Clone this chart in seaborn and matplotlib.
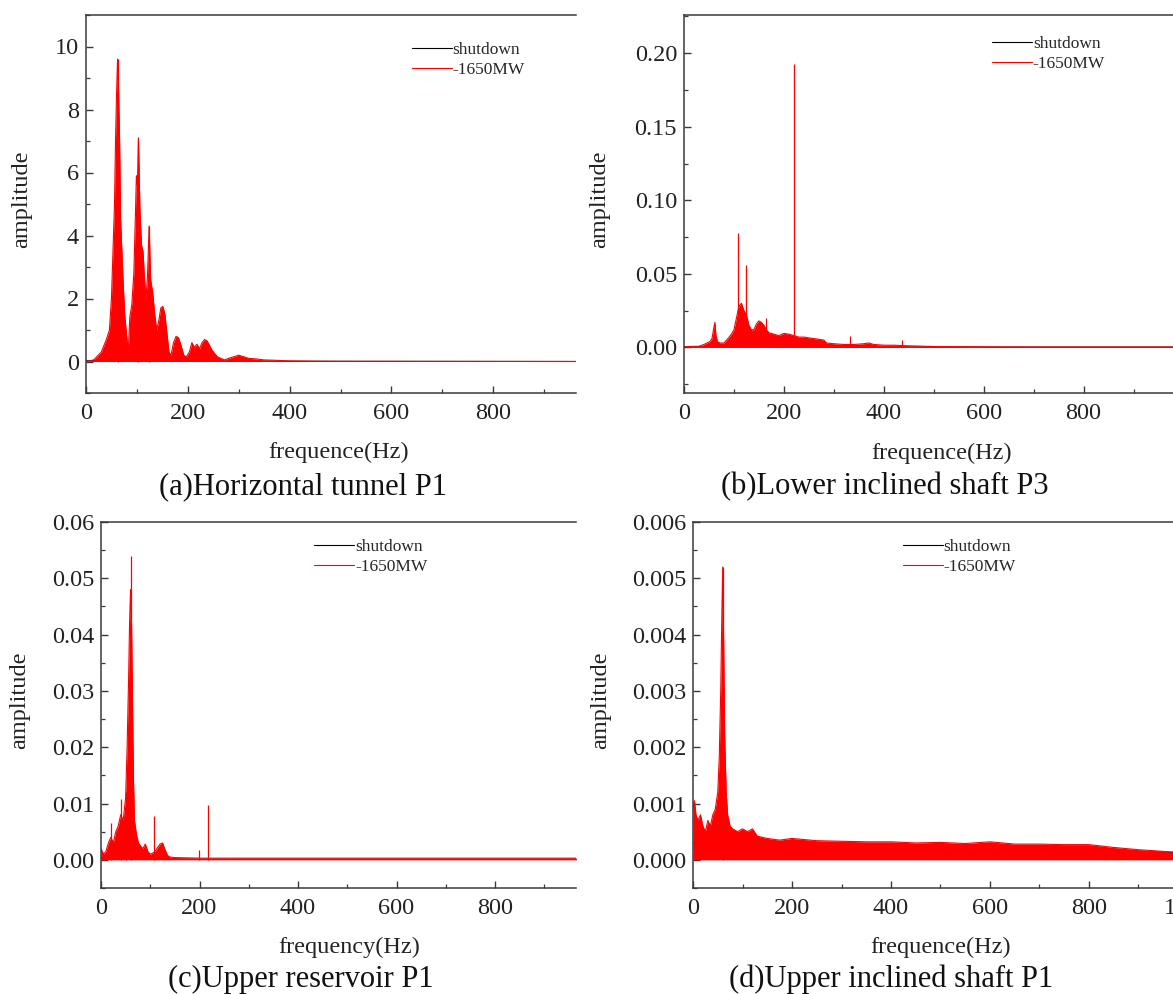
import matplotlib
matplotlib.use("Agg")
import matplotlib.pyplot as plt
import numpy as np
import pandas as pd
import seaborn as sns
from matplotlib.ticker import MultipleLocator, FormatStrFormatter

# ---------------- data ----------------
# (a) Horizontal tunnel P1 : -1650MW spectrum envelope
a_freq = [0, 15, 30, 40, 46, 50, 53, 56, 58, 60, 62, 64, 66, 68, 70, 73, 76, 80, 83, 86, 90,
          94, 97, 99, 101, 103, 106, 109, 112, 115, 118, 121, 124, 127, 131, 135, 139, 143,
          147, 151, 155, 159, 163, 167, 172, 177, 182, 187, 192, 197, 203, 208, 213, 218,
          223, 228, 233, 238, 243, 248, 253, 258, 265, 272, 280, 290, 300, 310, 320, 335,
          350, 370, 400, 450, 500, 1000]
a_amp = [0, 0.05, 0.3, 0.7, 1.0, 2.0, 3.5, 5.0, 7.0, 8.5, 9.6, 8.6, 7.0, 4.5, 3.7, 2.5, 1.5,
         0.8, 0.3, 1.4, 1.8, 2.8, 4.6, 5.9, 5.6, 7.1, 4.8, 3.7, 3.5, 2.6, 2.0, 2.8, 4.3, 2.6,
         2.2, 1.5, 1.0, 1.3, 1.7, 1.75, 1.5, 0.9, 0.3, 0.2, 0.6, 0.8, 0.75, 0.5, 0.2, 0.15,
         0.3, 0.6, 0.45, 0.55, 0.4, 0.6, 0.7, 0.65, 0.5, 0.35, 0.25, 0.15, 0.1, 0.05, 0.1,
         0.15, 0.2, 0.15, 0.1, 0.08, 0.05, 0.04, 0.02, 0.01, 0.005, 0.0]
a_spike_freq = [62, 103, 124]
a_spike_amp = [9.6, 7.1, 4.3]
a_shut_freq = [0, 50, 60, 70, 100, 200, 1000]
a_shut_amp = [0.02, 0.05, 0.1, 0.05, 0.03, 0.01, 0.0]

# (b) Lower inclined shaft P3
b_freq = [0, 30, 40, 46, 52, 56, 60, 62, 64, 67, 72, 80, 88, 95, 100, 105, 110, 115, 120,
          125, 130, 135, 140, 145, 150, 155, 160, 165, 170, 180, 190, 200, 210, 220, 230,
          240, 250, 260, 270, 280, 285, 300, 320, 340, 360, 370, 380, 400, 420, 440, 460,
          480, 500, 550, 600, 700, 800, 1000]
b_amp = [0.0005, 0.0008, 0.002, 0.003, 0.004, 0.006, 0.014, 0.017, 0.008, 0.004, 0.003,
         0.003, 0.006, 0.009, 0.012, 0.02, 0.028, 0.03, 0.025, 0.022, 0.015, 0.012, 0.012,
         0.016, 0.018, 0.017, 0.015, 0.012, 0.01, 0.009, 0.008, 0.0095, 0.009, 0.008,
         0.007, 0.007, 0.0065, 0.006, 0.0055, 0.005, 0.003, 0.0025, 0.002, 0.002, 0.0025,
         0.003, 0.002, 0.0015, 0.0015, 0.0012, 0.001, 0.0008, 0.0006, 0.0005, 0.0004,
         0.0003, 0.0003, 0.0003]
b_spike_freq = [109, 125, 165, 220, 333, 437]
b_spike_amp = [0.078, 0.056, 0.02, 0.193, 0.008, 0.005]
b_shut_freq = [0, 100, 200, 500, 1000]
b_shut_amp = [0.0003, 0.0004, 0.0003, 0.0002, 0.0002]

# (c) Upper reservoir P1
c_freq = [0, 5, 10, 15, 20, 25, 30, 35, 40, 45, 50, 53, 56, 58, 60, 62, 64, 66, 68, 72, 76,
          80, 85, 90, 95, 100, 105, 110, 115, 120, 125, 130, 135, 140, 150, 200, 300, 500,
          700, 1000]
c_amp = [0.002, 0.001, 0.0015, 0.003, 0.004, 0.003, 0.005, 0.006, 0.008, 0.007, 0.011,
         0.02, 0.032, 0.042, 0.048, 0.042, 0.028, 0.014, 0.007, 0.0045, 0.003, 0.0025,
         0.002, 0.0028, 0.0015, 0.001, 0.0012, 0.0015, 0.0022, 0.0028, 0.003, 0.0018,
         0.0008, 0.0005, 0.0004, 0.0003, 0.0003, 0.0003, 0.0003, 0.0003]
c_spike_freq = [20, 40, 50, 60, 108, 198, 218]
c_spike_amp = [0.0065, 0.0108, 0.012, 0.054, 0.0078, 0.0017, 0.0098]
c_shut_freq = [0, 40, 50, 60, 70, 80, 200, 1000]
c_shut_amp = [0.0003, 0.0003, 0.0005, 0.0006, 0.0004, 0.0002, 0.0001, 0.0001]

# (d) Upper inclined shaft P1
d_freq = [0, 3, 6, 10, 15, 20, 25, 30, 35, 40, 45, 50, 53, 56, 58, 60, 62, 64, 67, 70, 75,
          80, 90, 100, 110, 120, 130, 150, 175, 200, 250, 300, 350, 400, 450, 500, 550,
          600, 650, 700, 750, 800, 850, 900, 950, 1000]
d_amp = [0.0009, 0.00105, 0.0008, 0.0007, 0.0008, 0.0006, 0.0005, 0.0007, 0.0006, 0.0008,
         0.0009, 0.0012, 0.0018, 0.003, 0.0042, 0.0052, 0.0038, 0.0022, 0.0012, 0.0008,
         0.0006, 0.00055, 0.0005, 0.00055, 0.0005, 0.00055, 0.00042, 0.00038, 0.00035,
         0.00038, 0.00034, 0.00033, 0.00032, 0.00032, 0.0003, 0.00031, 0.00029, 0.00032,
         0.00028, 0.00028, 0.00027, 0.00027, 0.00022, 0.00018, 0.00015, 0.00012]
d_spike_freq = [60]
d_spike_amp = [0.0052]
d_shut_freq = [0, 50, 60, 70, 200, 600, 1000]
d_shut_amp = [0.0003, 0.0002, 0.0002, 0.0002, 0.00025, 0.00025, 0.00012]

series_labels = ["shutdown", "-1650MW"]
captions = ["(a)Horizontal tunnel P1", "(b)Lower inclined shaft P3",
            "(c)Upper reservoir P1", "(d)Upper inclined shaft P1"]
xlabels = ["frequence(Hz)", "frequence(Hz)", "frequency(Hz)", "frequence(Hz)"]

# ---------------- style ----------------
sns.set_theme(style="ticks")
plt.rcParams["font.family"] = ["Liberation Serif", "DejaVu Serif"]
plt.rcParams["axes.edgecolor"] = "#3a3a3a"
plt.rcParams["axes.linewidth"] = 1.1

W, H = 1173, 994
fig = plt.figure(figsize=(W / 100, H / 100), dpi=100)
fig.patch.set_facecolor("white")


def add_axes_px(left, top, right, bottom):
    return fig.add_axes([left / W, 1 - bottom / H, (right - left) / W, (bottom - top) / H])


def draw_panel(ax, freq, amp, sp_f, sp_a, sd_f, sd_a, xmax, ylim, ymajor, yminor, yfmt,
               xlabel, xl_pos, yl_pos, leg_pos):
    shut = pd.DataFrame({"f": sd_f, "a": sd_a})
    load = pd.DataFrame({"f": freq, "a": amp})
    sns.lineplot(data=shut, x="f", y="a", color="black", lw=0.8, ax=ax,
                 label=series_labels[0], zorder=2)
    ax.fill_between(load["f"], 0, load["a"], color="#ff0000", lw=0, zorder=2.1)
    sns.lineplot(data=load, x="f", y="a", color="#ff0000", lw=0.8, ax=ax,
                 label=series_labels[1], zorder=2.2)
    ax.vlines(sp_f, 0, sp_a, color="#ff0000", lw=0.9, zorder=2.3)

    ax.set_xlim(0, xmax)
    ax.set_ylim(*ylim)
    ax.xaxis.set_major_locator(MultipleLocator(200))
    ax.xaxis.set_minor_locator(MultipleLocator(100))
    ax.yaxis.set_major_locator(MultipleLocator(ymajor))
    ax.yaxis.set_minor_locator(MultipleLocator(yminor))
    ax.yaxis.set_major_formatter(FormatStrFormatter(yfmt))
    ax.tick_params(which="both", direction="in", colors="#3a3a3a", labelcolor="#222222",
                   labelsize=17.5, top=False, right=False)
    ax.tick_params(which="major", length=5, width=1.0)
    ax.tick_params(which="minor", length=3, width=0.9)
    ax.tick_params(axis="x", pad=7)
    ax.tick_params(axis="y", pad=5)
    ax.spines["right"].set_visible(False)

    ax.set_xlabel(xlabel, fontsize=17.5, color="#222222", va="center")
    ax.set_ylabel("amplitude", fontsize=17.5, color="#222222", va="center")
    ax.xaxis.set_label_coords(*xl_pos)
    ax.yaxis.set_label_coords(*yl_pos)

    handles, labels = ax.get_legend_handles_labels()
    ax.legend(handles, labels, loc="upper left", bbox_to_anchor=leg_pos, frameon=False,
              fontsize=12.5, handlelength=2.3, handletextpad=0.05, labelspacing=0.25,
              borderpad=0, borderaxespad=0)


# panel (a)
ax_a = add_axes_px(86, 15, 576, 393)
draw_panel(ax_a, a_freq, a_amp, a_spike_freq, a_spike_amp, a_shut_freq, a_shut_amp,
           xmax=(576 - 86) / 0.509, ylim=(-1, 11), ymajor=2, yminor=1, yfmt="%d",
           xlabel=xlabels[0], xl_pos=(0.516, -0.156), yl_pos=(-0.131, 0.513),
           leg_pos=(0.665, 0.93))

# panel (b)
ax_b = add_axes_px(684, 15, 1173, 393)
draw_panel(ax_b, b_freq, b_amp, b_spike_freq, b_spike_amp, b_shut_freq, b_shut_amp,
           xmax=(1173 - 684) / 0.4995, ylim=(-0.031, 0.226), ymajor=0.05, yminor=0.025,
           yfmt="%.2f", xlabel=xlabels[1], xl_pos=(0.526, -0.159), yl_pos=(-0.172, 0.513),
           leg_pos=(0.63, 0.945))

# panel (c)
ax_c = add_axes_px(101, 522, 576, 888)
draw_panel(ax_c, c_freq, c_amp, c_spike_freq, c_spike_amp, c_shut_freq, c_shut_amp,
           xmax=(576 - 101) / 0.4925, ylim=(-0.005, 0.06), ymajor=0.01, yminor=0.005,
           yfmt="%.2f", xlabel=xlabels[2], xl_pos=(0.523, -0.161), yl_pos=(-0.171, 0.514),
           leg_pos=(0.449, 0.955))

# panel (d) runs past the right border so only the leading "1" of 1000 shows
ax_d = add_axes_px(693, 522, 1188, 888)
draw_panel(ax_d, d_freq, d_amp, d_spike_freq, d_spike_amp, d_shut_freq, d_shut_amp,
           xmax=1000, ylim=(-0.0005, 0.006), ymajor=0.001, yminor=0.0005,
           yfmt="%.3f", xlabel=xlabels[3], xl_pos=(0.501, -0.161), yl_pos=(-0.186, 0.514),
           leg_pos=(0.424, 0.955))

# captions under each panel
cap_pos = [(303, 487), (885, 487), (301, 979), (891, 979)]
for (cx, cy), text in zip(cap_pos, captions):
    fig.text(cx / W, 1 - cy / H, text, ha="center", va="center", fontsize=22,
             color="#111111")

fig.savefig("out.png", dpi=100, facecolor="white")
